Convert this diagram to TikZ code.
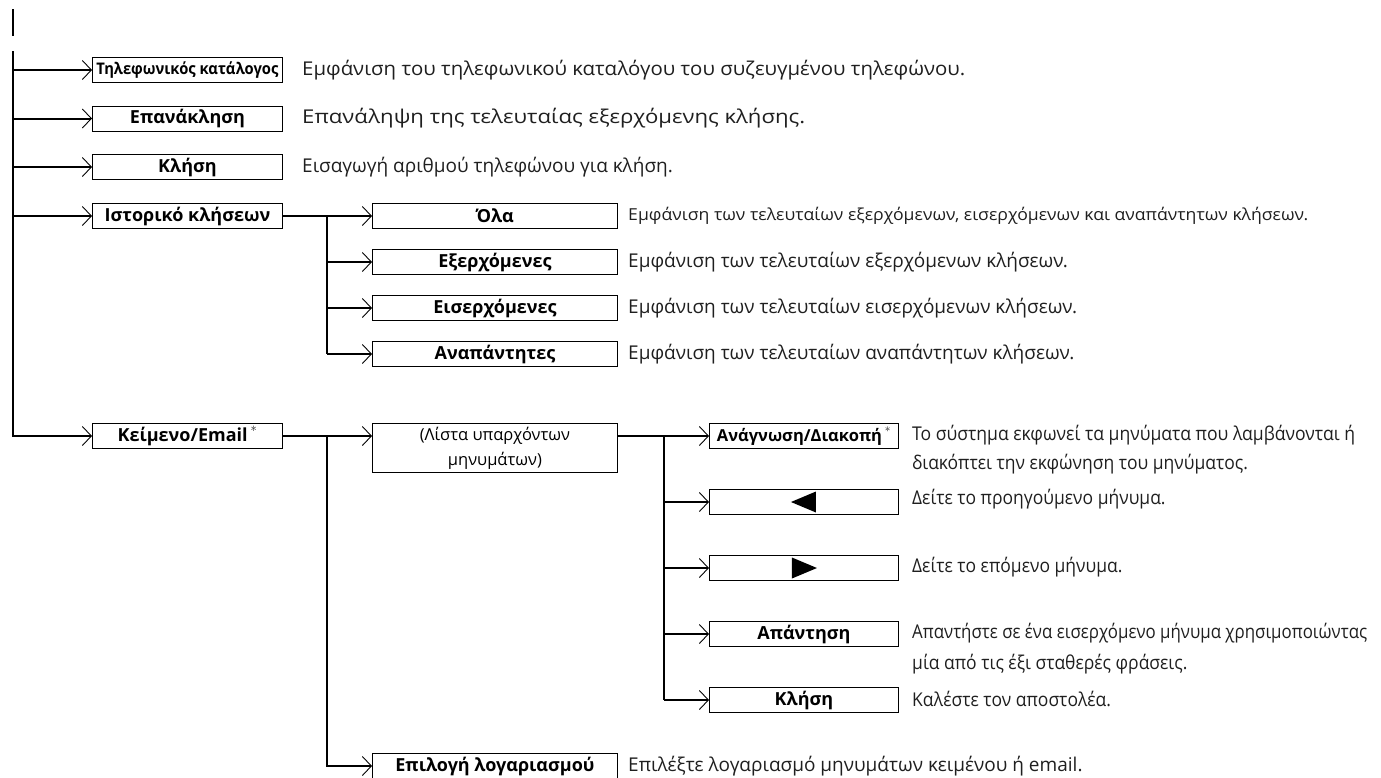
\documentclass[tikz,border=0pt]{standalone}
\usepackage{fontspec}
\usetikzlibrary{arrows.meta}
\newfontfamily\descf{Open Sans}
\newfontfamily\descn[FakeStretch=0.92]{Open Sans}
\newfontfamily\labf{Open Sans}
\newcommand{\fitto}[2]{\resizebox{#1}{\height}{#2}}
\newcommand{\astm}{\,\textsuperscript{\normalfont *}}
\tikzset{
  box/.style={draw, line width=0.9pt, minimum height=25pt, inner sep=0pt, anchor=west,
    font=\labf\fontsize{18}{20}\selectfont\bfseries},
  w1/.style={minimum width=190pt},
  w2/.style={minimum width=245pt},
  w3/.style={minimum width=189pt},
  desc/.style={anchor=west, inner sep=0pt, align=left, text=black!88,
    font=\descf\fontsize{19}{30}\selectfont},
  descc/.style={desc, font=\descn\fontsize{19}{30}\selectfont},
  conn/.style={line width=2pt},
  arr/.style={line width=2pt, -{Straight Barb[length=9pt,width=19pt,line width=0.9pt]}},
}
\begin{document}
\begin{tikzpicture}[x=1pt,y=-1pt]
\useasboundingbox (0,0) rectangle (1381,777);
% stub at top
\coordinate (s0) at (13,9);
\coordinate (s1) at (13,36);
\draw[conn] (s0) -- (s1);
\coordinate (t0) at (13,51);
% column 1
\node[box,w1] (tel) at (92,70) {\fitto{182pt}{\fontsize{16}{17}\selectfont Τηλεφωνικός κατάλογος}};
\node[box,w1] (rec) at (92,118.5) {Επανάκληση};
\node[box,w1] (cal) at (92,167) {Κλήση};
\node[box,w1] (ist) at (92,216) {Ιστορικό κλήσεων};
\node[box,w1] (kei) at (92,436) {Κείμενο/Email\astm};
\node[desc] (dtel) at (302,70) {\fitto{663pt}{Εμφάνιση του τηλεφωνικού καταλόγου του συζευγμένου τηλεφώνου.}};
\node[desc] (drec) at (302,118.5) {\fitto{503pt}{Επανάληψη της τελευταίας εξερχόμενης κλήσης.}};
\node[desc] (dcal) at (302,167) {Εισαγωγή αριθμού τηλεφώνου για κλήση.};
\draw[arr] (t0 |- tel.west) -- (tel.west);
\draw[arr] (t0 |- rec.west) -- (rec.west);
\draw[arr] (t0 |- cal.west) -- (cal.west);
\draw[arr] (t0 |- ist.west) -- (ist.west);
\draw[arr] (t0) -- (t0 |- kei.west) -- (kei.west);
% column 2 (history)
\coordinate (j2) at (327,216);
\node[box,w2] (ola) at (372,216) {Όλα};
\node[box,w2] (exe) at (372,262) {Εξερχόμενες};
\node[box,w2] (eis) at (372,308) {Εισερχόμενες};
\node[box,w2] (ana) at (372,354) {Αναπάντητες};
\node[desc] (dola) at (628,216) {\fitto{680pt}{\fontsize{16.5}{20}\selectfont Εμφάνιση των τελευταίων εξερχόμενων, εισερχόμενων και αναπάντητων κλήσεων.}};
\node[desc] (dexe) at (628,262) {Εμφάνιση των τελευταίων εξερχόμενων κλήσεων.};
\node[desc] (deis) at (628,308) {Εμφάνιση των τελευταίων εισερχόμενων κλήσεων.};
\node[desc] (dana) at (628,354) {Εμφάνιση των τελευταίων αναπάντητων κλήσεων.};
\draw[arr] (ist.east) -- (ola.west);
\draw[conn] (j2) -- (j2 |- ana.west);
\draw[arr] (j2 |- exe.west) -- (exe.west);
\draw[arr] (j2 |- eis.west) -- (eis.west);
\draw[arr] (j2 |- ana.west) -- (ana.west);
% column 2 (text/email)
\coordinate (k2) at (327,436);
\node[box,w2, minimum height=49pt, anchor=north west, align=center,
  font=\labf\fontsize{16.5}{25}\selectfont] (lis) at (372,423) {(Λίστα υπαρχόντων\\μηνυμάτων)};
\node[box,w2] (epi) at (372,766) {Επιλογή λογαριασμού};
\node[desc] (depi) at (628,766) {Επιλέξτε λογαριασμό μηνυμάτων κειμένου ή email.};
\draw[arr] (kei.east) -- (lis.west |- kei.east);
\draw[arr] (k2) -- (k2 |- epi.west) -- (epi.west);
% column 3
\coordinate (j3) at (664,436);
\node[box,w3] (ang) at (709,436) {\fontsize{16.5}{18}\selectfont Ανάγνωση/Διακοπή\astm};
\node[box,w3] (prv) at (709,502) {};
\node[box,w3] (nxt) at (709,568) {};
\node[box,w3] (apa) at (709,634) {Απάντηση};
\node[box,w3] (kal) at (709,700) {Κλήση};
\fill ([xshift=-13pt]prv.center) -- ([xshift=12pt,yshift=-10.5pt]prv.center) -- ([xshift=12pt,yshift=10.5pt]prv.center) -- cycle;
\fill ([xshift=13pt]nxt.center) -- ([xshift=-12pt,yshift=-10.5pt]nxt.center) -- ([xshift=-12pt,yshift=10.5pt]nxt.center) -- cycle;
\node[desc] (dang) at (912,435) {\fitto{443pt}{Το σύστημα εκφωνεί τα μηνύματα που λαμβάνονται ή}};
\node[descc] (dang2) at (912,464) {διακόπτει την εκφώνηση του μηνύματος.};
\node[descc] (dprv) at (912,499) {Δείτε το προηγούμενο μήνυμα.};
\node[descc] (dnxt) at (912,567) {Δείτε το επόμενο μήνυμα.};
\node[desc] (dapa) at (912,633) {\fitto{455pt}{Απαντήστε σε ένα εισερχόμενο μήνυμα χρησιμοποιώντας}};
\node[descc] (dapa2) at (912,664) {μία από τις έξι σταθερές φράσεις.};
\node[descc] (dkal) at (912,699) {Καλέστε τον αποστολέα.};
\draw[arr] (lis.east |- ang.west) -- (ang.west);
\draw[conn] (j3) -- (j3 |- kal.west);
\draw[arr] (j3 |- prv.west) -- (prv.west);
\draw[arr] (j3 |- nxt.west) -- (nxt.west);
\draw[arr] (j3 |- apa.west) -- (apa.west);
\draw[arr] (j3 |- kal.west) -- (kal.west);
\end{tikzpicture}
\end{document}
